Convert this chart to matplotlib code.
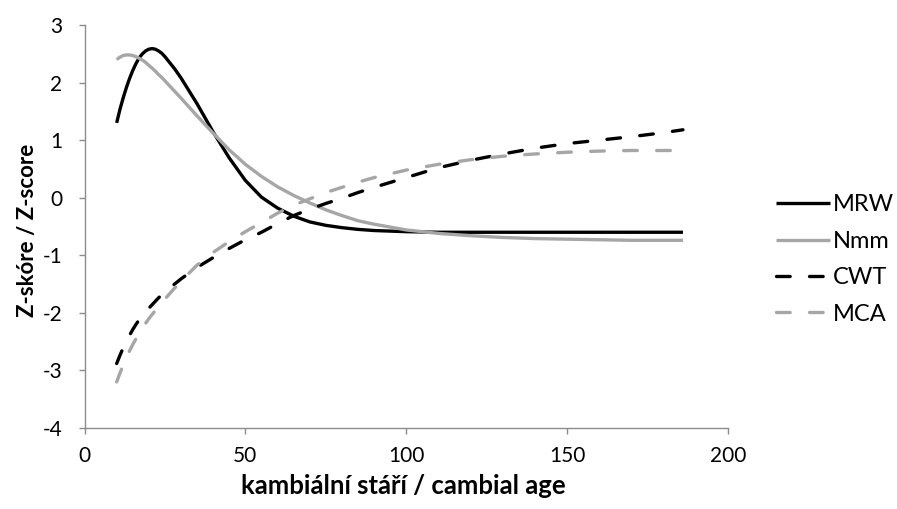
import matplotlib
matplotlib.use("Agg")
import matplotlib.pyplot as plt

plt.rcParams['font.family'] = ['Lato', 'DejaVu Sans']

# cambial age sample positions
age = [10, 11, 12, 13, 14, 15, 16, 17, 18, 19, 20, 21, 22, 23, 24, 25, 28, 30,
       35, 40, 45, 50, 55, 60, 65, 70, 75, 80, 85, 90, 100, 110, 120, 130, 140,
       150, 160, 170, 180, 186]

mrw = [1.30, 1.53, 1.73, 1.91, 2.07, 2.21, 2.33, 2.43, 2.50, 2.55, 2.58, 2.59,
       2.58, 2.55, 2.51, 2.45, 2.24, 2.08, 1.63, 1.14, 0.69, 0.30, 0.01, -0.18,
       -0.32, -0.42, -0.48, -0.52, -0.55, -0.57, -0.59, -0.60, -0.60, -0.60,
       -0.60, -0.60, -0.60, -0.60, -0.60, -0.60]

nmm = [2.40, 2.44, 2.47, 2.48, 2.48, 2.47, 2.45, 2.42, 2.39, 2.35, 2.30, 2.25,
       2.20, 2.14, 2.09, 2.03, 1.85, 1.73, 1.42, 1.12, 0.83, 0.58, 0.37, 0.19,
       0.04, -0.09, -0.21, -0.31, -0.40, -0.46, -0.56, -0.62, -0.66, -0.69,
       -0.71, -0.72, -0.73, -0.74, -0.74, -0.74]

cwt = [-2.88, -2.74, -2.61, -2.49, -2.39, -2.29, -2.20, -2.12, -2.05, -1.98,
       -1.92, -1.86, -1.80, -1.74, -1.69, -1.64, -1.50, -1.41, -1.21, -1.04,
       -0.88, -0.73, -0.60, -0.45, -0.31, -0.20, -0.10, -0.01, 0.09, 0.18,
       0.35, 0.52, 0.65, 0.76, 0.86, 0.94, 1.00, 1.06, 1.13, 1.18]

mca = [-3.20, -3.05, -2.91, -2.78, -2.66, -2.55, -2.45, -2.35, -2.26, -2.18,
       -2.10, -2.03, -1.96, -1.89, -1.82, -1.76, -1.57, -1.45, -1.17, -0.95,
       -0.76, -0.59, -0.43, -0.27, -0.13, -0.02, 0.09, 0.18, 0.27, 0.35,
       0.48, 0.58, 0.66, 0.72, 0.76, 0.79, 0.81, 0.82, 0.82, 0.82]

series_names = ["MRW", "Nmm", "CWT", "MCA"]
x_ticks = [0, 50, 100, 150, 200]
y_ticks = [-4, -3, -2, -1, 0, 1, 2, 3]

BLACK = "#000000"
GRAY = "#A6A6A6"
AXC = "#8C8C8C"

fig = plt.figure(figsize=(8.97, 5.09), dpi=100)
ax = fig.add_axes([84.5 / 897, 1 - 428 / 509, (728 - 84.5) / 897, (428 - 25) / 509])

lw = 2.4
dash = (4.1, 5.8)
ax.plot(age, mrw, color=BLACK, lw=lw, solid_capstyle='butt', solid_joinstyle='round',
        label=series_names[0])
ax.plot(age, nmm, color=GRAY, lw=lw, solid_capstyle='butt', solid_joinstyle='round',
        label=series_names[1])
l3, = ax.plot(age, cwt, color=BLACK, lw=lw, label=series_names[2])
l4, = ax.plot(age, mca, color=GRAY, lw=lw, label=series_names[3])
for l in (l3, l4):
    l.set_dashes(dash)
    l.set_dash_capstyle('round')

ax.set_xlim(0, 200)
ax.set_ylim(-4, 3)
ax.set_xticks(x_ticks)
ax.set_yticks(y_ticks)
ax.set_xticklabels([str(v) for v in x_ticks])
ax.set_yticklabels([str(v) for v in y_ticks])

for s in ("top", "right"):
    ax.spines[s].set_visible(False)
for s in ("left", "bottom"):
    ax.spines[s].set_color(AXC)
    ax.spines[s].set_linewidth(1.0)

ax.tick_params(axis='both', colors=AXC, labelcolor='black', labelsize=15,
               length=4, width=1.0, direction='out')
ax.tick_params(axis='y', pad=12)
ax.tick_params(axis='x', pad=9)

ax.set_xlabel("kambiální stáří / cambial age", fontsize=18.5, fontweight='bold')
ax.set_ylabel("Z-skóre / Z-score", fontsize=16, fontweight='bold')
ax.xaxis.set_label_coords(0.495, -0.115)
ax.yaxis.set_label_coords(-0.072, 0.49)

leg = ax.legend(loc='center left', bbox_to_anchor=(776 / 897, 1 - 259.5 / 509),
                bbox_transform=fig.transFigure, frameon=False, fontsize=17,
                handlelength=2.3, handletextpad=0.12, labelspacing=0.65,
                borderpad=0, borderaxespad=0)

fig.savefig("out.png", dpi=100)
